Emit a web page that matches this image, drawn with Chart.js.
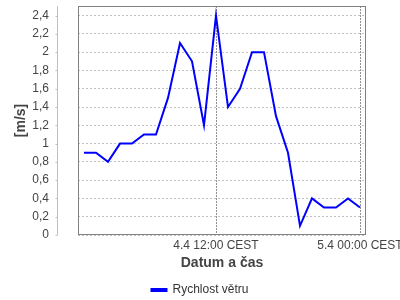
<!DOCTYPE html>
<html>
<head>
<meta charset="utf-8">
<script src="https://cdn.jsdelivr.net/npm/chart.js@4"></script>
<style>
  html, body { margin: 0; padding: 0; background: #fff; }
  #wrap { width: 400px; height: 300px; }
</style>
</head>
<body>
<div id="wrap"><canvas id="windChart"></canvas></div>
<script>
// hodiny od 4.4 01:00 do 5.4 00:00
const hours = [1, 2, 3, 4, 5, 6, 7, 8, 9, 10, 11, 12, 13, 14, 15, 16, 17, 18, 19, 20, 21, 22, 23, 24];
const speeds = [0.9, 0.9, 0.8, 1.0, 1.0, 1.1, 1.1, 1.5, 2.1, 1.9, 1.2, 2.4, 1.4, 1.6, 2.0, 2.0, 1.3, 0.9, 0.1, 0.4, 0.3, 0.3, 0.4, 0.3];
const xTickValues = [12, 24];
const xTickLabels = ['4.4 12:00 CEST', '5.4 00:00 CEST'];
const yTickValues = [0, 0.2, 0.4, 0.6, 0.8, 1, 1.2, 1.4, 1.6, 1.8, 2, 2.2, 2.4];

const FONT = 'Liberation Sans, Arial, sans-serif';

// ram grafu + odsazena osa Y
const framePlugin = {
  id: 'frame',
  afterDraw(chart) {
    const { ctx, chartArea: a } = chart;
    const y = chart.scales.y;
    ctx.save();
    ctx.strokeStyle = '#808080';
    ctx.lineWidth = 1;
    ctx.strokeRect(a.left + 0.5, a.top + 0.5, a.right - a.left - 1, a.bottom - a.top - 1);

    const axisX = a.left - 21 + 0.5;
    ctx.strokeStyle = '#c0c0c0';
    ctx.beginPath();
    ctx.moveTo(axisX, a.top);
    ctx.lineTo(axisX, a.bottom);
    yTickValues.forEach(v => {
      const py = Math.round(y.getPixelForValue(v)) + 0.5;
      ctx.moveTo(axisX - 2, py);
      ctx.lineTo(axisX, py);
    });
    ctx.stroke();
    ctx.restore();
  }
};

new Chart(document.getElementById('windChart'), {
  type: 'line',
  data: {
    datasets: [{
      label: 'Rychlost větru',
      data: hours.map((h, i) => ({ x: h, y: speeds[i] })),
      borderColor: '#0000ff',
      backgroundColor: '#0000ff',
      borderWidth: 2,
      pointRadius: 0,
      tension: 0,
      fill: false
    }]
  },
  options: {
    responsive: true,
    maintainAspectRatio: false,
    animation: false,
    layout: { padding: { left: 0, right: 0, top: 6, bottom: -6 } },
    plugins: {
      tooltip: { enabled: false },
      legend: {
        position: 'bottom',
        labels: {
          boxWidth: 15,
          boxHeight: 2,
          padding: 4,
          color: '#333',
          font: { family: FONT, size: 12 }
        }
      }
    },
    scales: {
      x: {
        type: 'linear',
        min: 0.5,
        max: 24.5,
        afterBuildTicks: s => { s.ticks = xTickValues.map(v => ({ value: v })); },
        afterFit: s => { s.height = 45; s.paddingLeft = 0; s.paddingRight = 34; },
        ticks: {
          autoSkip: false,
          maxRotation: 0,
          padding: 3,
          color: '#444',
          font: { family: FONT, size: 12 },
          callback: v => xTickLabels[xTickValues.indexOf(v)]
        },
        grid: {
          color: '#909090',
          drawTicks: false
        },
        border: { display: false, dash: [2, 1] },
        title: {
          display: true,
          text: 'Datum a čas',
          color: '#444',
          font: { family: FONT, size: 14, weight: 'bold' },
          padding: { top: 4, bottom: 8 }
        }
      },
      y: {
        min: 0,
        max: 2.505,
        afterBuildTicks: s => { s.ticks = yTickValues.map(v => ({ value: v })); },
        afterFit: s => { s.width = 78; s.paddingTop = 0; s.paddingBottom = 0; },
        ticks: {
          autoSkip: false,
          padding: 29,
          color: '#444',
          font: { family: FONT, size: 12 },
          callback: v => String(Number(v.toFixed(1))).replace('.', ',')
        },
        grid: {
          color: '#c0c0c0',
          drawTicks: false
        },
        border: { display: false, dash: [2, 2] },
        title: {
          display: true,
          text: '[m/s]',
          color: '#444',
          font: { family: FONT, size: 14, weight: 'bold' },
          padding: { top: 13, bottom: 0 }
        }
      }
    }
  },
  plugins: [framePlugin]
});
</script>
</body>
</html>
